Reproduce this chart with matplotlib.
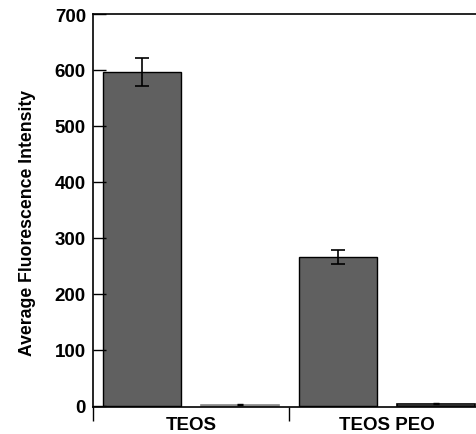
import matplotlib
matplotlib.use("Agg")
import matplotlib.pyplot as plt

plt.rcParams['font.family'] = ['Liberation Sans', 'DejaVu Sans']

groups = ["TEOS", "TEOS PEO"]
main_vals = [597, 266]
main_err = [25, 13]
small_vals = [2, 4]
small_err = [1, 1]
yticks = [0, 100, 200, 300, 400, 500, 600, 700]

fig = plt.figure(figsize=(4.76, 4.35), dpi=100)
ax = fig.add_axes([0.195, 0.062, 0.824, 0.9035])

xs = [i + 0.25 for i in range(len(groups))]
xs2 = [i + 0.75 for i in range(len(groups))]

ax.bar(xs, main_vals, 0.4, color='#606060', edgecolor='black', linewidth=1.0,
       yerr=main_err, capsize=5, error_kw=dict(elinewidth=1.2, capthick=1.2))
ax.bar(xs2, small_vals, 0.4, color='white', edgecolor=['#888888', 'black'], linewidth=1.2,
       yerr=small_err, capsize=2, error_kw=dict(elinewidth=1.0, capthick=1.0))

ax.set_xlim(0, 2)
ax.set_ylim(-2, 700)
ax.set_yticks(yticks)
ax.tick_params(axis='y', direction='in', length=9, width=1, labelsize=13.5, pad=5)
for t in ax.get_yticklabels():
    t.set_fontweight('bold')

ax.set_xticks([0, 1, 2])
ax.set_xticklabels([])
ax.set_xticks([i + 0.5 for i in range(len(groups))], minor=True)
ax.set_xticklabels(groups, minor=True, fontsize=13.5, fontweight='bold')
ax.tick_params(axis='x', which='major', direction='out', length=10, width=1)
ax.tick_params(axis='x', which='minor', length=0, pad=6.5)

ax.set_ylabel("Average Fluorescence Intensity", fontsize=12.7, fontweight='bold')
ax.yaxis.set_label_coords(-0.145, 0.47)

for s in ax.spines.values():
    s.set_linewidth(1.2)

fig.savefig("out.png", dpi=100)
